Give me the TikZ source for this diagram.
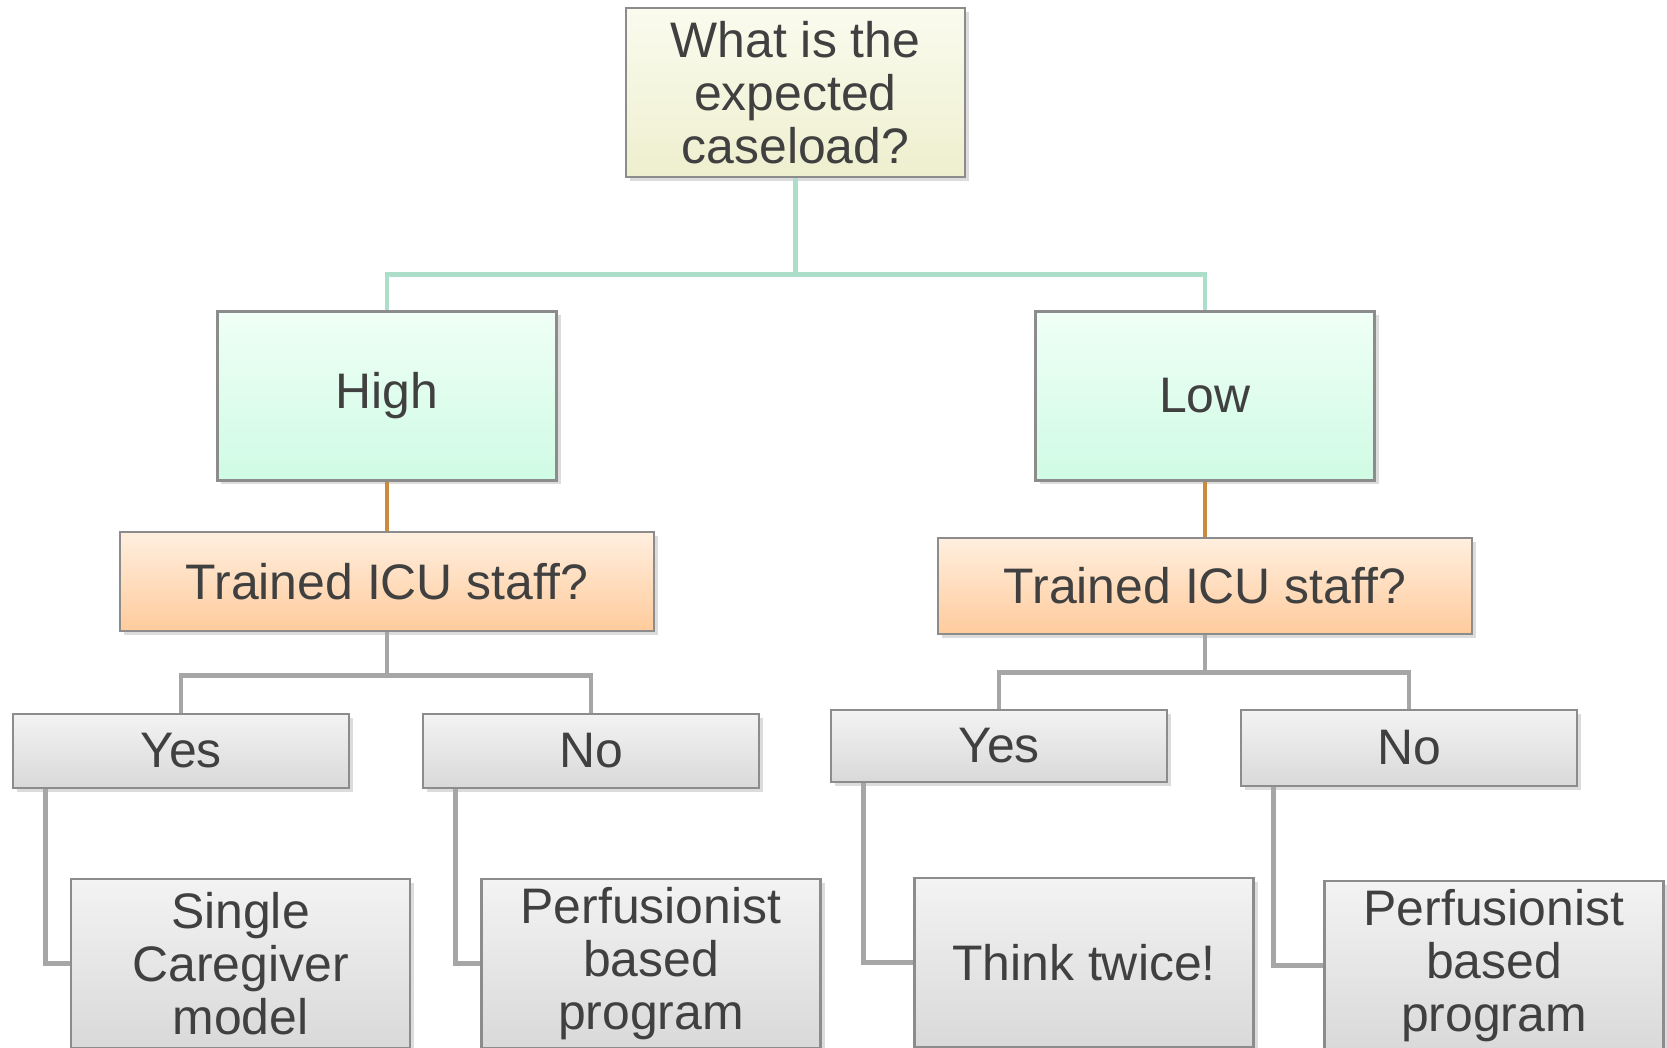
\documentclass[tikz,border=0pt]{standalone}
\usepackage{fontspec}
\setmainfont{Liberation Sans}
\usetikzlibrary{positioning, shadows}
\definecolor{inkgray}{HTML}{404040}
\definecolor{framegray}{HTML}{8C8C8C}
\definecolor{creamtop}{HTML}{FAFBEE}
\definecolor{creambot}{HTML}{EEEFCE}
\definecolor{minttop}{HTML}{F0FFF7}
\definecolor{mintbot}{HTML}{CFFBE4}
\definecolor{peachtop}{HTML}{FFEFDF}
\definecolor{peachbot}{HTML}{FFCB9C}
\definecolor{silvertop}{HTML}{F3F3F3}
\definecolor{silverbot}{HTML}{D9D9D9}
\definecolor{tealline}{HTML}{ADDEC9}
\definecolor{amberline}{HTML}{CC8A3C}
\definecolor{greyline}{HTML}{A6A6A6}

\begin{document}
\begin{tikzpicture} [%
    on grid,
    every node/.style = {%
      font = \fontsize{14.2}{15}\selectfont,
      text = inkgray,
      align = center,
      inner sep = 0pt },
    basebox/.style = {%
      draw = framegray,
      line width = 0.6pt,
      rectangle,
      drop shadow = {shadow xshift = 0.4mm, shadow yshift = -0.4mm,
        opacity = 0.3, fill = black!45} },
    rootbox/.style = {basebox, top color = creamtop, bottom color = creambot,
      minimum width = 3.39cm, minimum height = 1.69cm},
    loadbox/.style = {basebox, top color = minttop, bottom color = mintbot,
      minimum width = 3.39cm, minimum height = 1.69cm},
    staffbox/.style = {basebox, top color = peachtop, bottom color = peachbot,
      minimum width = 5.34cm, minimum height = 0.99cm},
    answerbox/.style = {basebox, top color = silvertop, bottom color = silverbot,
      minimum width = 3.36cm, minimum height = 0.74cm},
    outcomebox/.style = {basebox, top color = silvertop, bottom color = silverbot,
      minimum width = 3.39cm, minimum height = 1.69cm},
    link/.style = {line width = 1.4pt}
  ]

  \useasboundingbox (0,0) rectangle (16.67,-10.48);

  \node[rootbox] (root) at (7.955,-0.925) {What is the\\expected\\caseload?};
  \node[loadbox] (high) [below left=3.035cm and 4.085cm of root] {High};
  \node[loadbox] (low) [below right=3.035cm and 4.095cm of root] {Low};

  \node[staffbox] (staffH) [below=1.855cm of high] {Trained ICU staff?};
  \node[staffbox, minimum height=0.96cm] (staffL) [below=1.90cm of low] {Trained ICU staff?};

  \node[answerbox] (yesH) [below left=1.695cm and 2.06cm of staffH] {Yes};
  \node[answerbox] (noH) [below right=1.695cm and 2.04cm of staffH] {No};
  \node[answerbox, minimum height=0.72cm] (yesL) [below left=1.60cm and 2.06cm of staffL] {Yes};
  \node[answerbox, minimum height=0.76cm] (noL) [below right=1.62cm and 2.04cm of staffL] {No};

  \node[outcomebox] (single) [below right=2.125cm and 0.595cm of yesH] {Single\\Caregiver\\model};
  \node[outcomebox] (perfH) [below right=2.125cm and 0.60cm of noH] {Perfusionist\\based\\program};
  \node[outcomebox] (think) [below right=2.165cm and 0.85cm of yesL] {Think twice!};
  \node[outcomebox] (perfL) [below right=2.175cm and 0.85cm of noL] {Perfusionist\\based\\program};

  % caseload split
  \draw[link, tealline] (root.south) -- ++(0,-0.99);
  \draw[link, tealline] (high.north) -- ++(0,0.355) -| (low.north);

  % staff questions
  \draw[link, amberline] (high.south) -- (staffH.north);
  \draw[link, amberline] (low.south) -- (staffL.north);

  % yes / no
  \draw[link, greyline] (staffH.south) -- ++(0,-0.45);
  \draw[link, greyline] (yesH.north) -- ++(0,0.375) -| (noH.north);
  \draw[link, greyline] (staffL.south) -- ++(0,-0.40);
  \draw[link, greyline] (yesL.north) -- ++(0,0.36) -| (noL.north);

  % outcomes
  \draw[link, greyline] ([xshift=3.4mm]yesH.south west) |- (single.west);
  \draw[link, greyline] ([xshift=3.4mm]noH.south west) |- (perfH.west);
  \draw[link, greyline] ([xshift=3.4mm]yesL.south west) |- (think.west);
  \draw[link, greyline] ([xshift=3.4mm]noL.south west) |- (perfL.west);

\end{tikzpicture}
\end{document}
